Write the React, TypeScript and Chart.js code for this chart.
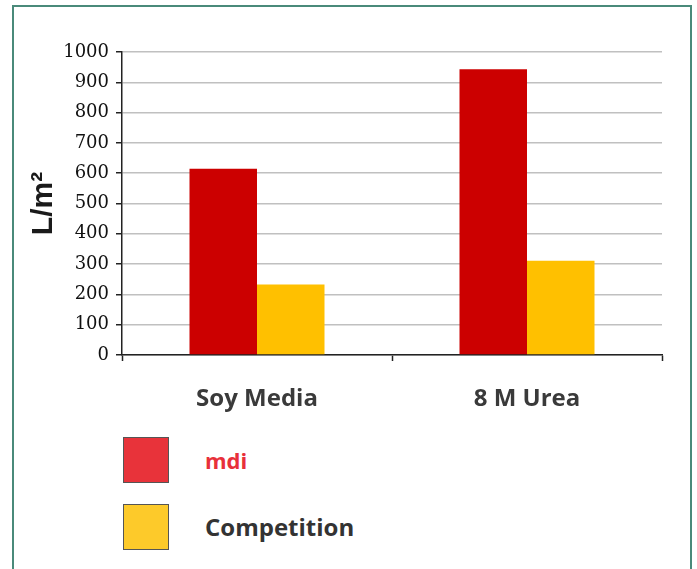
import React, { useEffect, useRef } from "react";
import { Chart, registerables } from "chart.js";

Chart.register(...registerables);

const categories = ["Soy Media", "8 M Urea"];
const seriesNames = ["mdi", "Competition"];
const mdiValues = [615, 943];
const competitionValues = [233, 311];
const yTicks = [0, 100, 200, 300, 400, 500, 600, 700, 800, 900, 1000];
const barColors = ["#cc0000", "#ffc000"];
const legendColors = ["#e8333a", "#fdca2a"];
const legendTextColors = ["#e8303a", "#333333"];

export default function App() {
  const ref = useRef<HTMLCanvasElement | null>(null);

  useEffect(() => {
    document.body.style.overflow = "hidden";
    const ctx = ref.current!.getContext("2d")!;
    const chart = new Chart(ctx, {
      type: "bar",
      data: {
        labels: categories,
        datasets: [
          {
            label: seriesNames[0],
            data: mdiValues,
            backgroundColor: barColors[0],
            borderWidth: 0,
          },
          {
            label: seriesNames[1],
            data: competitionValues,
            backgroundColor: barColors[1],
            borderWidth: 0,
          },
        ],
      },
      options: {
        animation: false,
        responsive: false,
        devicePixelRatio: 1,
        layout: { padding: { left: 22, right: 35, top: 52, bottom: 0 } },
        plugins: {
          legend: { display: false },
          tooltip: { enabled: false },
        },
        datasets: {
          bar: { categoryPercentage: 0.5, barPercentage: 1 },
        },
        scales: {
          x: {
            grid: {
              offset: true,
              drawOnChartArea: false,
              drawTicks: true,
              tickLength: 6,
              tickColor: "#222",
              tickWidth: 1.5,
            },
            border: { color: "#222", width: 1.5 },
            ticks: {
              color: "#3a3a3a",
              font: { family: "'Open Sans', sans-serif", size: 24, weight: "bold" },
              padding: 24,
            },
            afterFit: (scale: any) => {
              scale.height = 75;
            },
          },
          y: {
            min: 0,
            max: 1000,
            afterBuildTicks: (scale: any) => {
              scale.ticks = yTicks.map((v) => ({ value: v }));
            },
            grid: {
              color: "#c0c0c0",
              lineWidth: 1.5,
              drawTicks: true,
              tickLength: 6,
              tickColor: "#222",
              tickWidth: 1.5,
            },
            border: { color: "#222", width: 1.5 },
            ticks: {
              color: "#111",
              font: { family: "'DejaVu Serif', serif", size: 18 },
              padding: 7,
              callback: (v: any) => String(v),
            },
            title: {
              display: true,
              text: "L/m²",
              color: "#1a1a1a",
              font: { family: "'Liberation Sans', Arial, sans-serif", size: 30, weight: "bold" },
              padding: { top: 4, bottom: 0 },
            },
            afterFit: (scale: any) => {
              scale.width = 100;
            },
          },
        },
      },
    });
    return () => chart.destroy();
  }, []);

  const legendTops = [437, 504];

  return (
    <div>
      <div
        style={{
          position: "absolute",
          left: 12,
          top: 5,
          width: 680,
          height: 564,
          border: "2.5px solid #4a8a7a",
          borderBottom: "none",
          boxSizing: "border-box",
        }}
      />
      <canvas
        ref={ref}
        width={697}
        height={430}
        style={{ position: "absolute", left: 0, top: 0, width: 697, height: 430 }}
      />
      {seriesNames.map((name, i) => (
        <React.Fragment key={name}>
          <div
            style={{
              position: "absolute",
              left: 123,
              top: legendTops[i],
              width: 46,
              height: 46,
              background: legendColors[i],
              border: "1.5px solid #555",
              boxSizing: "border-box",
            }}
          />
          <div
            style={{
              position: "absolute",
              left: 205,
              top: legendTops[i],
              height: 46,
              lineHeight: "46px",
              fontFamily: "'Open Sans', sans-serif",
              fontWeight: 700,
              fontSize: i === 0 ? 22 : 24,
              color: legendTextColors[i],
            }}
          >
            {name}
          </div>
        </React.Fragment>
      ))}
    </div>
  );
}
